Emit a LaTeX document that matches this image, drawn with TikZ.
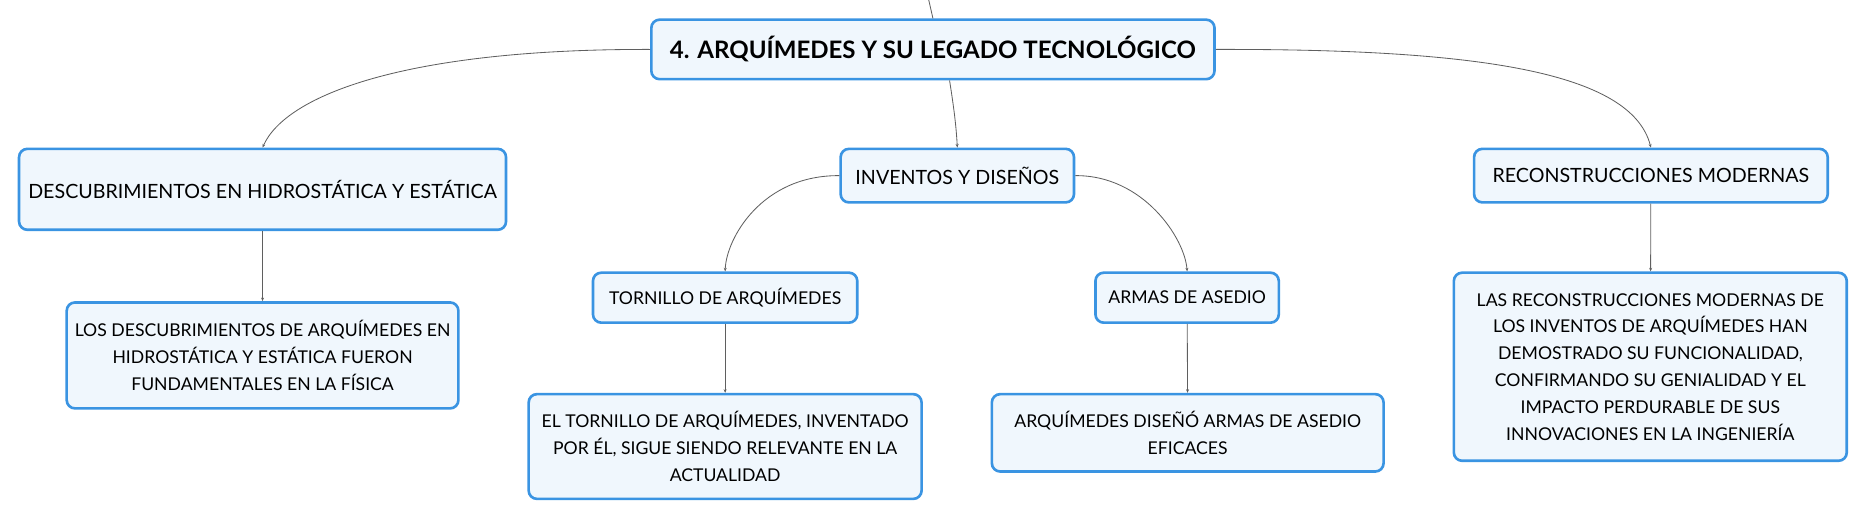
\documentclass[tikz,border=0pt]{standalone}
\usepackage{fontspec}
\setmainfont{Lato}
\usepackage{tikz}
\usetikzlibrary{arrows.meta}

\definecolor{boxline}{HTML}{3A94E2}
\definecolor{boxfill}{HTML}{F0F7FD}
\definecolor{linkgray}{HTML}{5F5F5F}

\begin{document}
\begin{tikzpicture}[x=1pt, y=-1pt,
  every node/.style={draw=boxline, fill=boxfill, line width=2.2pt, rounded corners=7pt,
    text=black, align=center, inner sep=0pt},
  topic/.style={minimum width=473pt, minimum height=50pt, font=\fontsize{20.2}{24}\selectfont\bfseries},
  subtopic/.style={minimum height=45pt, font=\fontsize{16.5}{20}\selectfont},
  note/.style={font=\fontsize{14.8}{22.5}\selectfont},
  link/.style={draw=linkgray, line width=0.7pt, -{Stealth[length=3pt,width=2.5pt]}},
]
  \useasboundingbox (0,0) rectangle (1568,437);

  % central topic
  \coordinate (up) at (780,0);
  \node[topic] (root) at (783.5,41.5) {4. ARQUÍMEDES Y SU LEGADO TECNOLÓGICO};

  % main branches
  \node[subtopic, minimum width=409pt, minimum height=68pt] (desc) at (220.5,159) {DESCUBRIMIENTOS EN HIDROSTÁTICA Y ESTÁTICA};
  \node[subtopic, minimum width=196pt] (inv) at (804,147.5) {INVENTOS Y DISEÑOS};
  \node[subtopic, minimum width=297pt] (rec) at (1386.5,147.5) {RECONSTRUCCIONES MODERNAS};

  % sub branches
  \node[note, minimum width=222pt, minimum height=42pt] (torn) at (609,250) {TORNILLO DE ARQUÍMEDES};
  \node[note, minimum width=154pt, minimum height=42pt] (armas) at (997,250) {ARMAS DE ASEDIO};

  % notes
  \node[note, minimum width=329pt, minimum height=89pt] (descnote) at (220.5,298.5)
    {LOS DESCUBRIMIENTOS DE ARQUÍMEDES EN\\HIDROSTÁTICA Y ESTÁTICA FUERON\\FUNDAMENTALES EN LA FÍSICA};
  \node[note, minimum width=330pt, minimum height=88pt] (tornnote) at (609,375)
    {EL TORNILLO DE ARQUÍMEDES, INVENTADO\\POR ÉL, SIGUE SIENDO RELEVANTE EN LA\\ACTUALIDAD};
  \node[note, minimum width=329pt, minimum height=65pt] (armasnote) at (997.5,363.5)
    {ARQUÍMEDES DISEÑÓ ARMAS DE ASEDIO\\EFICACES};
  \node[note, minimum width=330pt, minimum height=158pt] (recnote) at (1386,308)
    {LAS RECONSTRUCCIONES MODERNAS DE\\LOS INVENTOS DE ARQUÍMEDES HAN\\DEMOSTRADO SU FUNCIONALIDAD,\\CONFIRMANDO SU GENIALIDAD Y EL\\IMPACTO PERDURABLE DE SUS\\INNOVACIONES EN LA INGENIERÍA};

  % connectors
  \draw[draw=linkgray, line width=0.7pt] (up) -- (root.north);
  \draw[link] (root.west) .. controls (340,41) and (240,80) .. (desc.north);
  \draw[link] (root.east) .. controls (1240,41) and (1370,60) .. (rec.north);
  \draw[link] ([xshift=14pt]root.south) .. controls (801,90) and (803,105) .. (inv.north);
  \draw[link] (inv.west) .. controls (640,147) and (610,200) .. (torn.north);
  \draw[link] (inv.east) .. controls (960,147) and (995,200) .. (armas.north);
  \draw[link] (desc) -- (descnote);
  \draw[link] (torn) -- (tornnote);
  \draw[link] (armas) -- (armasnote);
  \draw[link] (rec) -- (recnote);
\end{tikzpicture}
\end{document}
